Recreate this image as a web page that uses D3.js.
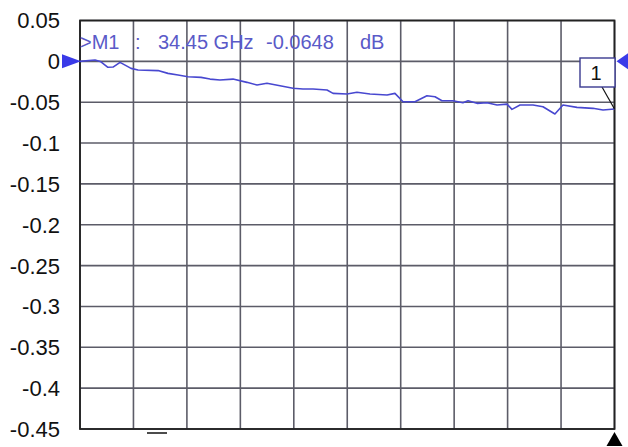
<!DOCTYPE html>
<html><head><meta charset="utf-8">
<script src="https://cdn.jsdelivr.net/npm/d3@7/dist/d3.min.js"></script>
<style>body{margin:0;background:#fff}svg{display:block}</style>
</head><body>
<svg id="c" width="628" height="447"></svg>
<script>
const freqGHz = [0,0.97,1.35,1.80,2.13,2.58,3.29,3.74,5.03,5.67,6.32,6.96,7.80,8.38,9.02,9.86,10.76,11.41,12.05,12.89,13.73,14.37,15.02,15.92,16.31,17.21,17.85,18.69,19.79,20.30,20.82,21.59,22.36,22.88,23.33,24.04,24.68,25.01,25.59,26.23,26.88,27.52,27.84,28.36,29.20,29.84,30.61,31.13,32.03,33.06,33.71,34.45];
const magDB = [0,0.0016,-0.0005,-0.0073,-0.0070,-0.0012,-0.0086,-0.0106,-0.0113,-0.0147,-0.0168,-0.0188,-0.0196,-0.0217,-0.0229,-0.0217,-0.0257,-0.0290,-0.0269,-0.0299,-0.0330,-0.0339,-0.0339,-0.0351,-0.0392,-0.0400,-0.0379,-0.0400,-0.0412,-0.0392,-0.0494,-0.0494,-0.0421,-0.0433,-0.0482,-0.0482,-0.0507,-0.0482,-0.0514,-0.0507,-0.0535,-0.0523,-0.0588,-0.0535,-0.0535,-0.0556,-0.0645,-0.0535,-0.0563,-0.0575,-0.0596,-0.0584];
const yTicks = [0.05,0,-0.05,-0.1,-0.15,-0.2,-0.25,-0.3,-0.35,-0.4,-0.45];
const yTickLabels = ["0.05","0","-0.05","-0.1","-0.15","-0.2","-0.25","-0.3","-0.35","-0.4","-0.45"];
const markerText = [">M1", ":", "34.45 GHz", "-0.0648", "dB"];
const markerFreq = 34.45, markerVal = -0.0584;

const svg = d3.select("#c");
const L=80, R=614.5, T=20.5, B=429;
const x = d3.scaleLinear().domain([0,34.45]).range([L,R]);
const y = d3.scaleLinear().domain([-0.45,0.05]).range([B,T]);
const xGrid = d3.range(0,11).map(i=>i*34.45/10);
const gridCol="#5c5c68";
const font="Liberation Sans, Arial, sans-serif";

svg.append("rect").attr("x",L).attr("y",T).attr("width",R-L).attr("height",B-T).attr("fill","#fff");
const g = svg.append("g");
g.selectAll("line.h").data(yTicks).join("line").attr("class","h")
 .attr("x1",L).attr("x2",R).attr("y1",d=>y(d)).attr("y2",d=>y(d))
 .attr("stroke",gridCol).attr("stroke-width",1.6);
g.selectAll("line.v").data(xGrid).join("line").attr("class","v")
 .attr("y1",T).attr("y2",B).attr("x1",d=>x(d)).attr("x2",d=>x(d))
 .attr("stroke",gridCol).attr("stroke-width",1.6);
svg.append("rect").attr("x",L).attr("y",T).attr("width",R-L).attr("height",B-T)
 .attr("fill","none").attr("stroke","#222").attr("stroke-width",1.8);

// y labels
svg.selectAll("text.yl").data(yTicks).join("text").attr("class","yl")
 .attr("x",60).attr("y",d=>y(d)).attr("dy","0.36em").attr("text-anchor","end")
 .attr("font-family",font).attr("font-size",22).attr("fill","#111")
 .text((d,i)=>yTickLabels[i]);

// marker readout
const mx=[80,135,158,266,360];
svg.selectAll("text.mk").data(markerText).join("text").attr("class","mk")
 .attr("x",(d,i)=>mx[i]).attr("y",48.5).attr("font-family",font)
 .attr("font-size",20).attr("fill","#5a5ac8").text(d=>d);

// trace
const line = d3.line().x((d,i)=>x(freqGHz[i])).y(d=>y(d));
svg.append("path").datum(magDB).attr("d",line).attr("fill","none")
 .attr("stroke","#4848d0").attr("stroke-width",1.6).attr("stroke-linejoin","round");

// reference triangles
const y0=y(0);
svg.append("path").attr("d",`M${L-18},${y0-7}L${L+1},${y0}L${L-18},${y0+7}Z`).attr("fill","#3a3ae8");
svg.append("path").attr("d",`M628,${y0-8}L${R+2},${y0}L628,${y0+8}Z`).attr("fill","#3a3ae8");
// stop triangle
svg.append("path").attr("d",`M${R},${B+3}L${R+8},${B+17}L${R-8},${B+17}Z`).attr("fill","#000");
// small dash
svg.append("line").attr("x1",147).attr("x2",167).attr("y1",B+4).attr("y2",B+4).attr("stroke","#111").attr("stroke-width",1.5);

// marker box
const mxp=x(markerFreq), myp=y(markerVal);
svg.append("line").attr("x1",602).attr("y1",87).attr("x2",mxp).attr("y2",myp).attr("stroke","#111").attr("stroke-width",1.2);
svg.append("rect").attr("x",580).attr("y",58).attr("width",35).attr("height",29).attr("fill","#fff").attr("stroke","#3a3a90").attr("stroke-width",1.4);
svg.append("text").attr("x",596).attr("y",80).attr("text-anchor","middle").attr("font-family",font).attr("font-size",20).attr("fill","#111").text("1");
</script>
</body></html>
